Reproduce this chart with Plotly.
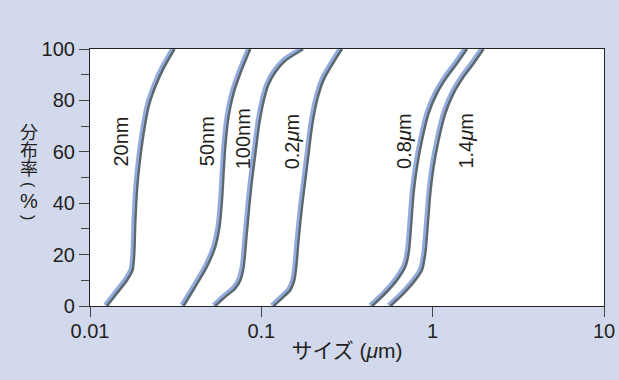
import plotly.graph_objects as go

# cumulative distribution (%) vs particle size (um)
PCT_20NM = [0, 5, 10, 14, 20.5, 32, 45, 55.5, 67, 77.5, 85.3, 92.5, 100]
SIZE_20NM = [0.01252, 0.01432, 0.01637, 0.01766, 0.01807, 0.01831, 0.01874,
             0.01941, 0.02047, 0.02189, 0.02396, 0.02679, 0.03105]

PCT_50NM = [0, 7.5, 15.3, 23, 31, 41, 51.6, 62, 73.7, 82.8, 90.5, 100]
SIZE_50NM = [0.03505, 0.04102, 0.04800, 0.05366, 0.05685, 0.05871, 0.05999,
             0.06138, 0.06417, 0.06863, 0.07512, 0.08590]

PCT_100NM = [0, 3.6, 6.9, 10, 15, 26, 39, 49, 59, 71, 80, 86, 91, 95.5, 100]
SIZE_100NM = [0.05366, 0.06138, 0.07023, 0.07512, 0.07851, 0.08142, 0.08477,
              0.08790, 0.09188, 0.09696, 0.1030, 0.1094, 0.1202, 0.1375, 0.1751]

PCT_02UM = [0, 3.6, 6.2, 10, 15.3, 25.7, 38.6, 49, 59.4, 69.8, 80, 88, 93.8, 100]
SIZE_02UM = [0.1175, 0.1344, 0.1471, 0.1552, 0.1594, 0.1644, 0.1721,
             0.1800, 0.1881, 0.1969, 0.2106, 0.2301, 0.2576, 0.2947]

PCT_08UM = [0, 4.9, 10.1, 15.3, 20.5, 30.9, 43.9, 54.2, 64.6, 75, 82.8, 89.2, 94.4, 100]
SIZE_08UM = [0.4411, 0.5273, 0.6171, 0.6900, 0.7213, 0.7449, 0.7713,
             0.8076, 0.8637, 0.9438, 1.0566, 1.2088, 1.3826, 1.5814]

PCT_14UM = [0, 4.9, 10.1, 14, 20.5, 30.9, 43.9, 54.2, 64.6, 75, 82.8, 89.2, 94.4, 100]
SIZE_14UM = [0.5641, 0.6745, 0.7899, 0.8637, 0.9028, 0.9313, 0.9656,
             1.0095, 1.0797, 1.1814, 1.3207, 1.5107, 1.7284, 1.9770]

CURVES = [
    ("20nm", SIZE_20NM, PCT_20NM),
    ("50nm", SIZE_50NM, PCT_50NM),
    ("100nm", SIZE_100NM, PCT_100NM),
    ("0.2<i>μ</i>m", SIZE_02UM, PCT_02UM),
    ("0.8<i>μ</i>m", SIZE_08UM, PCT_08UM),
    ("1.4<i>μ</i>m", SIZE_14UM, PCT_14UM),
]

# label positions (log10 size, %)
LABEL_X = [-1.819, -1.319, -1.105, -0.822, -0.171, 0.189]
LABEL_Y = [64, 64, 65, 64, 64, 64]

X_TICKS = [0.01, 0.1, 1, 10]
X_TICK_TEXT = ["0.01", "0.1", "1", "10"]

BG = "#D2D9EC"
BLUE = "#93AADD"
GRAY = "#5C6870"
INK = "#231F20"
SANS = "Liberation Sans, Arial"
CJK = "Noto Sans CJK JP"

W, H = 619, 380
M = dict(l=90, r=15, t=49, b=74)
PLOT_W = W - M["l"] - M["r"]
PLOT_H = H - M["t"] - M["b"]

# blue highlight sits slightly up-left of the gray line
DX_PX, DY_PX = 2.2, 1.3
dlog = DX_PX / PLOT_W * 3
dpct = DY_PX / PLOT_H * 100

fig = go.Figure()

for name, xs, ys in CURVES:
    fig.add_trace(go.Scatter(
        x=xs, y=ys, mode="lines",
        line=dict(color=GRAY, width=3, shape="spline", smoothing=0.7),
        hoverinfo="skip", showlegend=False,
    ))
for name, xs, ys in CURVES:
    fig.add_trace(go.Scatter(
        x=xs, y=ys, mode="lines", xaxis="x2", yaxis="y2",
        line=dict(color=BLUE, width=2.8, shape="spline", smoothing=0.7),
        hoverinfo="skip", showlegend=False,
    ))

for (name, _, _), lx, ly in zip(CURVES, LABEL_X, LABEL_Y):
    fig.add_annotation(
        x=lx, y=ly, text=name, showarrow=False, textangle=-90,
        font=dict(family=SANS, size=20, color=INK),
    )

# vertical y-axis title, one glyph per line (parens turned sideways)
Y_TITLE = ["分", "布", "率", "(", "%", ")"]
Y_TITLE_PX = [131, 149, 167, 185, 201, 217]
Y_TITLE_STYLE = [(CJK, 18, 0), (CJK, 18, 0), (CJK, 18, 0),
                 (SANS, 16, 90), (SANS, 20, 0), (SANS, 16, 90)]
for ch, py, (fam, sz, ang) in zip(Y_TITLE, Y_TITLE_PX, Y_TITLE_STYLE):
    fig.add_annotation(
        xref="paper", yref="paper", xanchor="center", yanchor="middle",
        x=(29 - M["l"]) / PLOT_W, y=(H - M["b"] - py) / PLOT_H,
        text=ch, showarrow=False, textangle=ang,
        font=dict(family=fam, size=sz, color=INK),
    )

axis_common = dict(
    showline=True, linecolor="#222222", linewidth=1.2, mirror=True,
    ticks="outside", tickcolor="#444444", tickwidth=1, ticklen=10,
    showgrid=False, zeroline=False, automargin=False,
    tickfont=dict(family=SANS, size=20, color=INK),
)

fig.update_layout(
    width=W, height=H, margin=M,
    paper_bgcolor=BG, plot_bgcolor="white",
    xaxis=dict(
        type="log", range=[-2, 1],
        tickvals=X_TICKS, ticktext=X_TICK_TEXT, ticklabelstandoff=-3,
        title=dict(text="サイズ (<i>μ</i>m)", standoff=2,
                   font=dict(family=SANS + ", " + CJK, size=21, color=INK)),
        **axis_common,
    ),
    yaxis=dict(
        range=[0, 100], tickvals=[0, 20, 40, 60, 80, 100],
        minor=dict(tickvals=[10, 30, 50, 70, 90], ticks="outside",
                   ticklen=8, tickcolor="#444444"),
        **axis_common,
    ),
    xaxis2=dict(type="log", range=[-2 + dlog, 1 + dlog], overlaying="x",
                visible=False, showgrid=False),
    yaxis2=dict(range=[-dpct, 100 - dpct], overlaying="y",
                visible=False, showgrid=False),
)

# page body has a default 8px margin; drop it so the figure fills the window
fig.write_html("out.html", config={"displayModeBar": False},
               post_script="document.body.style.margin='0px';")
